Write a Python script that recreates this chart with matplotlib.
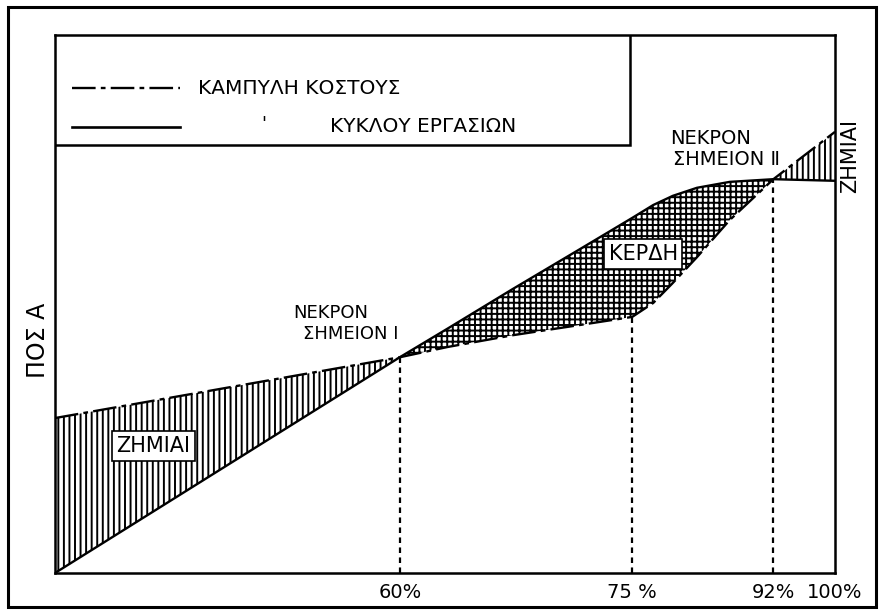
import matplotlib
matplotlib.use("Agg")
import matplotlib.pyplot as plt
from matplotlib.patches import Rectangle
import numpy as np

plt.rcParams['font.family'] = ['DejaVu Sans']
plt.rcParams['hatch.color'] = 'black'
plt.rcParams['hatch.linewidth'] = 1.4

# ---- data (x = horizontal position along the axis, 0..100; y = amount, 0..100) ----
x_pos = [0, 44.2, 50.3, 58.7, 67.3, 74.0, 76.7, 79.2, 82.3, 86.5, 92.1, 100]
turnover = [0, 40.1, 45.4, 52.8, 60.2, 66.0, 68.4, 70.1, 71.6, 72.7, 73.2, 72.9]
cost = [28.8, 40.1, 42.0, 44.2, 46.1, 47.6, 50.2, 53.9, 58.7, 65.6, 73.2, 82.0]

tick_pos = [44.2, 74.0, 92.1, 100]
tick_labels = ['60%', '75 %', '92%', '100%']
drop_pos = [44.2, 74.0, 92.1]
drop_top = [40.1, 47.6, 73.2]

legend_labels = ['ΚΑΜΠΥΛΗ ΚΟΣΤΟΥΣ', 'ΚΥΚΛΟΥ ΕΡΓΑΣΙΩΝ']
y_label = 'ΠΟΣ Α'

x = np.array(x_pos)
rev = np.array(turnover)
cst = np.array(cost)

W, H = 881, 614
fig = plt.figure(figsize=(W / 100, H / 100), dpi=100)
fig.patch.set_facecolor('white')

# outer frame
fig.patches.append(Rectangle((8 / W, 1 - 607 / H), (876 - 8) / W, (607 - 7) / H,
                             transform=fig.transFigure, fill=False,
                             edgecolor='black', lw=2.2))

ax = fig.add_axes([55 / W, 1 - 573 / H, 780 / W, 538 / H])
ax.set_xlim(0, 100)
ax.set_ylim(0, 100)
for s in ax.spines.values():
    s.set_linewidth(1.8)

cost_style = (0, (10, 2.2, 2, 2.2))

# hatched regions
ax.fill_between(x, rev, cst, where=cst >= rev, interpolate=True,
                facecolor='none', edgecolor='black', hatch='|||', linewidth=0)
ax.fill_between(x, rev, cst, where=rev >= cst, interpolate=True,
                facecolor='none', edgecolor='black', hatch='+++', linewidth=0)

# curves
ax.plot(x, rev, color='black', lw=1.7, solid_joinstyle='round')
ax.plot(x, cst, color='black', lw=1.7, linestyle=cost_style)

# dashed drop lines
for xp, yt in zip(drop_pos, drop_top):
    ax.plot([xp, xp], [0, yt], color='black', lw=1.6, linestyle=(0, (2.5, 2)))

ax.set_xticks(tick_pos)
ax.set_xticklabels(tick_labels, fontsize=14)
ax.tick_params(axis='x', length=0, pad=7)
ax.set_yticks([])

# legend box
ax.add_patch(Rectangle((0, 0.7955), 0.737, 0.2045, transform=ax.transAxes,
                       fill=True, facecolor='white', edgecolor='black', lw=1.8, zorder=3))
ax.plot([0.022, 0.160], [0.901, 0.901], transform=ax.transAxes, color='black',
        lw=1.7, linestyle=cost_style, zorder=4)
ax.plot([0.022, 0.160], [0.829, 0.829], transform=ax.transAxes, color='black',
        lw=1.9, zorder=4)
ax.text(0.183, 0.901, legend_labels[0], transform=ax.transAxes, fontsize=14.5,
        ha='left', va='center', zorder=4)
ax.text(0.267, 0.834, "'", transform=ax.transAxes, fontsize=13,
        ha='center', va='center', zorder=4)
ax.text(0.353, 0.829, legend_labels[1], transform=ax.transAxes, fontsize=14.5,
        ha='left', va='center', zorder=4)

# annotations
box = dict(boxstyle='square,pad=0.22', facecolor='white', edgecolor='black', lw=1.2)
ax.text(12.6, 23.6, 'ΖΗΜΙΑΙ', fontsize=15, ha='center', va='center', bbox=box)
ax.text(75.4, 59.3, 'ΚΕΡΔΗ', fontsize=15, ha='center', va='center', bbox=box)

ax.text(35.3, 48.3, 'ΝΕΚΡΟΝ', fontsize=13, ha='center', va='center')
ax.text(44.0, 44.4, 'ΣΗΜΕΙΟΝ Ⅰ', fontsize=13, ha='right', va='center')
ax.text(84.0, 80.8, 'ΝΕΚΡΟΝ', fontsize=14, ha='center', va='center')
ax.text(93.0, 76.9, 'ΣΗΜΕΙΟΝ Ⅱ', fontsize=14, ha='right', va='center')

fig.text(850 / W, 1 - 156 / H, 'ΖΗΜΙΑΙ', fontsize=15, rotation=90,
         ha='center', va='center')
fig.text(38 / W, 1 - 340 / H, y_label, fontsize=17, rotation=90,
         ha='center', va='center')

fig.savefig('out.png', dpi=100)
